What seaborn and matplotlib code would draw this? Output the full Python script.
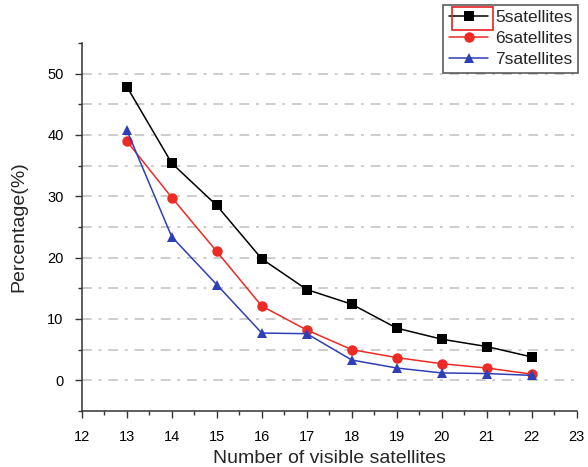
import matplotlib
matplotlib.use("Agg")
import matplotlib.pyplot as plt
import matplotlib.patches as patches
from matplotlib.ticker import MultipleLocator
import pandas as pd
import seaborn as sns

visible = [13, 14, 15, 16, 17, 18, 19, 20, 21, 22]
sat5 = [47.9, 35.4, 28.5, 19.8, 14.8, 12.4, 8.5, 6.7, 5.5, 3.8]
sat6 = [39.0, 29.8, 21.0, 12.1, 8.2, 5.0, 3.7, 2.7, 2.0, 1.0]
sat7 = [40.8, 23.4, 15.6, 7.7, 7.6, 3.3, 2.0, 1.2, 1.1, 0.8]
series_names = ["5satellites", "6satellites", "7satellites"]

df = pd.DataFrame({
    "visible": visible * 3,
    "percentage": sat5 + sat6 + sat7,
    "series": [series_names[0]] * 10 + [series_names[1]] * 10 + [series_names[2]] * 10,
})

sns.set_style("ticks")
plt.rcParams["font.family"] = ["Liberation Sans", "DejaVu Sans"]

fig = plt.figure(figsize=(5.88, 4.67), dpi=100)
ax = fig.add_axes([0.139, 0.12, 0.842, 0.788])

palette = {"5satellites": "black", "6satellites": "#ee2a24", "7satellites": "#2f3fb5"}
markers = {"5satellites": "s", "6satellites": "o", "7satellites": "^"}
sns.lineplot(data=df, x="visible", y="percentage", hue="series", style="series",
             palette=palette, markers=markers, dashes=False, markersize=7.5,
             markeredgewidth=0, linewidth=1.1, ax=ax)

ax.set_xlim(12, 23)
ax.set_ylim(-5, 55)
ax.xaxis.set_major_locator(MultipleLocator(1))
ax.xaxis.set_minor_locator(MultipleLocator(0.5))
ax.yaxis.set_major_locator(MultipleLocator(10))
ax.yaxis.set_minor_locator(MultipleLocator(5))
ax.set_yticks([0, 10, 20, 30, 40, 50])

for v in range(0, 55, 5):
    ax.axhline(v, color="#cdcdcd", linewidth=1.4, dashes=(5, 3.5, 1.5, 3.5), zorder=0)

for side in ["top", "right"]:
    ax.spines[side].set_visible(False)
for side in ["left", "bottom"]:
    ax.spines[side].set_color("#333333")
    ax.spines[side].set_linewidth(1.1)

ax.tick_params(which="major", direction="out", length=5, width=1, colors="#333333",
               labelsize=10.5, labelcolor="black")
ax.tick_params(axis="x", which="major", pad=9)
ax.tick_params(axis="y", which="major", pad=8)
ax.tick_params(which="minor", direction="out", length=3, width=1, colors="#333333")

ax.set_xlabel("Number of visible satellites", fontsize=14, labelpad=4)
ax.set_ylabel("Percentage(%)", fontsize=14, labelpad=14)

handles, labels = ax.get_legend_handles_labels()
ax.get_legend().remove()
leg = fig.legend(handles, labels, loc="upper right", bbox_to_anchor=(0.983, 0.99),
                 fontsize=12.5, frameon=True, fancybox=False, handlelength=2.3,
                 borderpad=0.3, labelspacing=0.35, handletextpad=0.4,
                 borderaxespad=0)
leg.get_frame().set_edgecolor("#333333")
leg.get_frame().set_linewidth(1.2)

sel = patches.Rectangle((452 / 588, 1 - 30 / 467), 41 / 588, 23 / 467,
                        transform=fig.transFigure, fill=False,
                        edgecolor="#e82020", linewidth=1.2, zorder=20)
fig.add_artist(sel)

fig.savefig("out.png", dpi=100)
